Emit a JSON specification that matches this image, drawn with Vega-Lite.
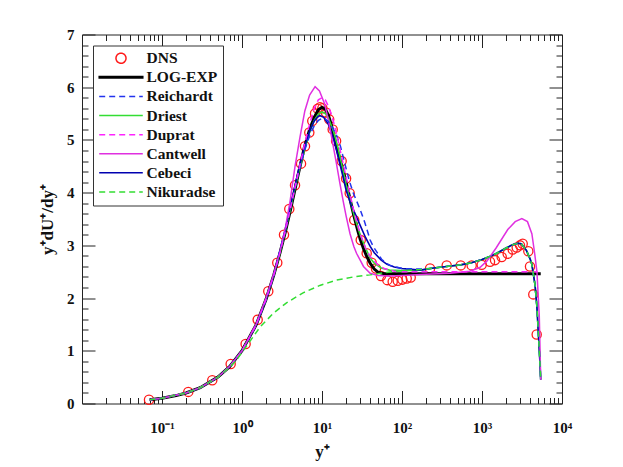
{
  "$schema": "https://vega.github.io/schema/vega-lite/v6.json",
  "width": 480,
  "height": 369,
  "autosize": {"type": "none"},
  "padding": {"left": 82, "top": 34.5, "right": 61, "bottom": 63.5},
  "background": "white",
  "config": {
    "view": {"stroke": null},
    "axis": {"grid": false, "tickColor": "#222", "domainColor": "#222", "tickWidth": 1, "domainWidth": 1},
    "legend": {
      "orient": "top-left", "offset": 11, "padding": 5, "rowPadding": 2.1, "clipHeight": 15.5,
      "strokeColor": "#333", "fillColor": "#ffffff",
      "labelFont": "Liberation Serif", "labelFontSize": 15.5, "labelFontWeight": "bold", "labelColor": "#111",
      "labelOffset": 2.5, "symbolSize": 1900, "symbolStrokeWidth": 1.5, "symbolFillColor": "transparent"
    }
  },
  "datasets": {
    "d": [
      {"s":"DNS","x":0.0688,"y":0.07},{"s":"DNS","x":0.213,"y":0.22},{"s":"DNS","x":0.425,"y":0.44},{"s":"DNS","x":0.722,"y":0.75},
      {"s":"DNS","x":1.11,"y":1.13},{"s":"DNS","x":1.57,"y":1.59},{"s":"DNS","x":2.13,"y":2.13},{"s":"DNS","x":2.76,"y":2.67},
      {"s":"DNS","x":3.35,"y":3.2},{"s":"DNS","x":3.9,"y":3.69},{"s":"DNS","x":4.6,"y":4.14},{"s":"DNS","x":5.47,"y":4.55},
      {"s":"DNS","x":6.13,"y":4.88},{"s":"DNS","x":6.94,"y":5.14},{"s":"DNS","x":7.56,"y":5.36},{"s":"DNS","x":8.18,"y":5.5},
      {"s":"DNS","x":8.84,"y":5.59},{"s":"DNS","x":9.44,"y":5.62},{"s":"DNS","x":10.1,"y":5.6},{"s":"DNS","x":11.2,"y":5.52},
      {"s":"DNS","x":12.3,"y":5.39},{"s":"DNS","x":13.6,"y":5.2},{"s":"DNS","x":15.0,"y":4.98},{"s":"DNS","x":17.6,"y":4.6},
      {"s":"DNS","x":20.0,"y":4.27},{"s":"DNS","x":22.2,"y":3.99},{"s":"DNS","x":25.3,"y":3.48},{"s":"DNS","x":30.5,"y":3.1},
      {"s":"DNS","x":36.2,"y":2.85},{"s":"DNS","x":41.8,"y":2.67},{"s":"DNS","x":47.3,"y":2.56},{"s":"DNS","x":54.6,"y":2.42},
      {"s":"DNS","x":65.5,"y":2.34},{"s":"DNS","x":76.5,"y":2.31},{"s":"DNS","x":88.4,"y":2.33},{"s":"DNS","x":101,"y":2.35},
      {"s":"DNS","x":114.5,"y":2.37},{"s":"DNS","x":128.5,"y":2.39},{"s":"DNS","x":224,"y":2.56},{"s":"DNS","x":362,"y":2.62},
      {"s":"DNS","x":542,"y":2.62},{"s":"DNS","x":743,"y":2.62},{"s":"DNS","x":991,"y":2.63},{"s":"DNS","x":1259,"y":2.69},
      {"s":"DNS","x":1454,"y":2.72},{"s":"DNS","x":1763,"y":2.78},{"s":"DNS","x":2096,"y":2.84},{"s":"DNS","x":2420,"y":2.92},
      {"s":"DNS","x":2716,"y":2.96},{"s":"DNS","x":2985,"y":3.0},{"s":"DNS","x":3226,"y":3.03},{"s":"DNS","x":3793,"y":2.89},
      {"s":"DNS","x":3981,"y":2.6},{"s":"DNS","x":4377,"y":2.07},{"s":"DNS","x":4827,"y":1.31},

      {"s":"LOG-EXP","x":0.07,"y":0.07},{"s":"LOG-EXP","x":0.1,"y":0.1},{"s":"LOG-EXP","x":0.15,"y":0.15},{"s":"LOG-EXP","x":0.2,"y":0.2},
      {"s":"LOG-EXP","x":0.3,"y":0.3},{"s":"LOG-EXP","x":0.5,"y":0.5},{"s":"LOG-EXP","x":0.7,"y":0.7},{"s":"LOG-EXP","x":1,"y":1.0},
      {"s":"LOG-EXP","x":1.5,"y":1.49},{"s":"LOG-EXP","x":2,"y":1.98},{"s":"LOG-EXP","x":2.5,"y":2.44},{"s":"LOG-EXP","x":3,"y":2.87},
      {"s":"LOG-EXP","x":3.5,"y":3.27},{"s":"LOG-EXP","x":4,"y":3.65},{"s":"LOG-EXP","x":4.5,"y":4.0},{"s":"LOG-EXP","x":5,"y":4.32},
      {"s":"LOG-EXP","x":6,"y":4.85},{"s":"LOG-EXP","x":7,"y":5.2},{"s":"LOG-EXP","x":8,"y":5.43},{"s":"LOG-EXP","x":9,"y":5.57},
      {"s":"LOG-EXP","x":10,"y":5.62},{"s":"LOG-EXP","x":11,"y":5.58},{"s":"LOG-EXP","x":12,"y":5.47},{"s":"LOG-EXP","x":13,"y":5.3},
      {"s":"LOG-EXP","x":14,"y":5.1},{"s":"LOG-EXP","x":15,"y":4.9},{"s":"LOG-EXP","x":17,"y":4.6},{"s":"LOG-EXP","x":19,"y":4.33},
      {"s":"LOG-EXP","x":21,"y":4.06},{"s":"LOG-EXP","x":23,"y":3.8},{"s":"LOG-EXP","x":25,"y":3.57},{"s":"LOG-EXP","x":28,"y":3.28},
      {"s":"LOG-EXP","x":30,"y":3.12},{"s":"LOG-EXP","x":33,"y":2.94},{"s":"LOG-EXP","x":36,"y":2.8},{"s":"LOG-EXP","x":40,"y":2.66},
      {"s":"LOG-EXP","x":45,"y":2.55},{"s":"LOG-EXP","x":50,"y":2.49},{"s":"LOG-EXP","x":60,"y":2.46},{"s":"LOG-EXP","x":100,"y":2.46},
      {"s":"LOG-EXP","x":1000,"y":2.46},{"s":"LOG-EXP","x":5420,"y":2.46},

      {"s":"Reichardt","x":0.07,"y":0.07},{"s":"Reichardt","x":0.1,"y":0.1},{"s":"Reichardt","x":0.2,"y":0.2},{"s":"Reichardt","x":0.3,"y":0.3},
      {"s":"Reichardt","x":0.5,"y":0.5},{"s":"Reichardt","x":0.7,"y":0.7},{"s":"Reichardt","x":1,"y":0.99},{"s":"Reichardt","x":1.5,"y":1.48},
      {"s":"Reichardt","x":2,"y":1.97},{"s":"Reichardt","x":2.5,"y":2.43},{"s":"Reichardt","x":3,"y":2.92},{"s":"Reichardt","x":3.5,"y":3.3},
      {"s":"Reichardt","x":4,"y":3.7},{"s":"Reichardt","x":5,"y":4.33},{"s":"Reichardt","x":6,"y":4.78},{"s":"Reichardt","x":7,"y":5.08},
      {"s":"Reichardt","x":8,"y":5.27},{"s":"Reichardt","x":9,"y":5.37},{"s":"Reichardt","x":10,"y":5.41},{"s":"Reichardt","x":11,"y":5.4},
      {"s":"Reichardt","x":12,"y":5.35},{"s":"Reichardt","x":13,"y":5.28},{"s":"Reichardt","x":15,"y":5.11},{"s":"Reichardt","x":17,"y":4.88},
      {"s":"Reichardt","x":19.3,"y":4.55},{"s":"Reichardt","x":22,"y":4.22},{"s":"Reichardt","x":24.5,"y":4.0},{"s":"Reichardt","x":30,"y":3.68},
      {"s":"Reichardt","x":34,"y":3.45},{"s":"Reichardt","x":40,"y":3.1},{"s":"Reichardt","x":44,"y":2.97},{"s":"Reichardt","x":56,"y":2.73},
      {"s":"Reichardt","x":70,"y":2.62},{"s":"Reichardt","x":100,"y":2.56},{"s":"Reichardt","x":170,"y":2.55},
      {"s":"Reichardt","x":250,"y":2.57},{"s":"Reichardt","x":360,"y":2.6},{"s":"Reichardt","x":540,"y":2.63},{"s":"Reichardt","x":740,"y":2.67},
      {"s":"Reichardt","x":1000,"y":2.73},{"s":"Reichardt","x":1250,"y":2.79},{"s":"Reichardt","x":1530,"y":2.85},{"s":"Reichardt","x":2000,"y":2.95},
      {"s":"Reichardt","x":2400,"y":3.01},{"s":"Reichardt","x":2800,"y":3.04},{"s":"Reichardt","x":3100,"y":3.03},{"s":"Reichardt","x":3600,"y":2.9},
      {"s":"Reichardt","x":4000,"y":2.74},{"s":"Reichardt","x":4200,"y":2.64},{"s":"Reichardt","x":4600,"y":2.25},{"s":"Reichardt","x":4850,"y":1.85},
      {"s":"Reichardt","x":5060,"y":1.35},{"s":"Reichardt","x":5250,"y":0.9},{"s":"Reichardt","x":5420,"y":0.45},

      {"s":"Driest","x":0.07,"y":0.07},{"s":"Driest","x":0.1,"y":0.1},{"s":"Driest","x":0.2,"y":0.2},{"s":"Driest","x":0.3,"y":0.3},
      {"s":"Driest","x":0.5,"y":0.5},{"s":"Driest","x":0.7,"y":0.7},{"s":"Driest","x":1,"y":1.0},{"s":"Driest","x":1.5,"y":1.49},
      {"s":"Driest","x":2,"y":1.98},{"s":"Driest","x":2.5,"y":2.44},{"s":"Driest","x":3,"y":2.87},{"s":"Driest","x":3.5,"y":3.28},
      {"s":"Driest","x":4,"y":3.67},{"s":"Driest","x":5,"y":4.33},{"s":"Driest","x":6,"y":4.8},{"s":"Driest","x":7,"y":5.15},
      {"s":"Driest","x":8,"y":5.37},{"s":"Driest","x":9,"y":5.49},{"s":"Driest","x":10,"y":5.53},{"s":"Driest","x":11,"y":5.5},
      {"s":"Driest","x":12,"y":5.42},{"s":"Driest","x":14,"y":5.15},{"s":"Driest","x":16,"y":4.82},{"s":"Driest","x":18,"y":4.47},
      {"s":"Driest","x":20,"y":4.15},{"s":"Driest","x":23,"y":3.8},{"s":"Driest","x":26,"y":3.5},{"s":"Driest","x":30,"y":3.2},
      {"s":"Driest","x":35,"y":2.95},{"s":"Driest","x":40,"y":2.76},{"s":"Driest","x":45,"y":2.66},{"s":"Driest","x":55,"y":2.57},
      {"s":"Driest","x":70,"y":2.53},{"s":"Driest","x":100,"y":2.52},{"s":"Driest","x":170,"y":2.53},
      {"s":"Driest","x":250,"y":2.57},{"s":"Driest","x":360,"y":2.6},{"s":"Driest","x":540,"y":2.63},{"s":"Driest","x":740,"y":2.67},
      {"s":"Driest","x":1000,"y":2.73},{"s":"Driest","x":1250,"y":2.79},{"s":"Driest","x":1530,"y":2.85},{"s":"Driest","x":2000,"y":2.95},
      {"s":"Driest","x":2400,"y":3.01},{"s":"Driest","x":2800,"y":3.04},{"s":"Driest","x":3100,"y":3.03},{"s":"Driest","x":3600,"y":2.9},
      {"s":"Driest","x":4000,"y":2.74},{"s":"Driest","x":4200,"y":2.64},{"s":"Driest","x":4600,"y":2.25},{"s":"Driest","x":4850,"y":1.85},
      {"s":"Driest","x":5060,"y":1.35},{"s":"Driest","x":5250,"y":0.9},{"s":"Driest","x":5420,"y":0.45},

      {"s":"Duprat","x":0.07,"y":0.07},{"s":"Duprat","x":0.1,"y":0.1},{"s":"Duprat","x":0.2,"y":0.2},{"s":"Duprat","x":0.3,"y":0.3},
      {"s":"Duprat","x":0.5,"y":0.5},{"s":"Duprat","x":0.7,"y":0.7},{"s":"Duprat","x":1,"y":1.0},{"s":"Duprat","x":1.5,"y":1.49},
      {"s":"Duprat","x":2,"y":1.98},{"s":"Duprat","x":2.5,"y":2.44},{"s":"Duprat","x":3,"y":2.88},{"s":"Duprat","x":3.5,"y":3.29},
      {"s":"Duprat","x":4,"y":3.68},{"s":"Duprat","x":5,"y":4.35},{"s":"Duprat","x":6,"y":4.9},{"s":"Duprat","x":7,"y":5.3},
      {"s":"Duprat","x":8,"y":5.6},{"s":"Duprat","x":9,"y":5.76},{"s":"Duprat","x":10,"y":5.8},{"s":"Duprat","x":11,"y":5.76},
      {"s":"Duprat","x":12,"y":5.64},{"s":"Duprat","x":13,"y":5.5},{"s":"Duprat","x":14,"y":5.33},{"s":"Duprat","x":15,"y":5.15},
      {"s":"Duprat","x":17,"y":4.78},{"s":"Duprat","x":20,"y":4.3},{"s":"Duprat","x":25,"y":3.65},{"s":"Duprat","x":30,"y":3.22},
      {"s":"Duprat","x":35,"y":2.95},{"s":"Duprat","x":40,"y":2.79},{"s":"Duprat","x":50,"y":2.63},{"s":"Duprat","x":60,"y":2.56},
      {"s":"Duprat","x":70,"y":2.53},{"s":"Duprat","x":80,"y":2.51},{"s":"Duprat","x":100,"y":2.5},{"s":"Duprat","x":1000,"y":2.5},
      {"s":"Duprat","x":5420,"y":2.5},

      {"s":"Cantwell","x":0.07,"y":0.07},{"s":"Cantwell","x":0.1,"y":0.1},{"s":"Cantwell","x":0.2,"y":0.2},{"s":"Cantwell","x":0.3,"y":0.3},
      {"s":"Cantwell","x":0.5,"y":0.5},{"s":"Cantwell","x":0.7,"y":0.7},{"s":"Cantwell","x":1,"y":1.0},{"s":"Cantwell","x":1.5,"y":1.5},
      {"s":"Cantwell","x":2,"y":2.0},{"s":"Cantwell","x":2.5,"y":2.46},{"s":"Cantwell","x":3,"y":2.9},{"s":"Cantwell","x":3.5,"y":3.35},
      {"s":"Cantwell","x":4,"y":3.85},{"s":"Cantwell","x":4.6,"y":4.5},{"s":"Cantwell","x":5.3,"y":5.05},{"s":"Cantwell","x":6.1,"y":5.55},
      {"s":"Cantwell","x":7,"y":5.85},{"s":"Cantwell","x":8.2,"y":6.01},{"s":"Cantwell","x":9.3,"y":5.93},{"s":"Cantwell","x":10.8,"y":5.68},
      {"s":"Cantwell","x":12,"y":5.38},{"s":"Cantwell","x":13.2,"y":5.05},{"s":"Cantwell","x":15.2,"y":4.54},{"s":"Cantwell","x":16.8,"y":4.16},
      {"s":"Cantwell","x":18.5,"y":3.82},{"s":"Cantwell","x":20,"y":3.56},{"s":"Cantwell","x":22.4,"y":3.22},{"s":"Cantwell","x":25,"y":2.98},
      {"s":"Cantwell","x":27,"y":2.85},{"s":"Cantwell","x":30,"y":2.72},{"s":"Cantwell","x":33,"y":2.6},{"s":"Cantwell","x":40,"y":2.47},
      {"s":"Cantwell","x":50,"y":2.43},{"s":"Cantwell","x":70,"y":2.42},{"s":"Cantwell","x":100,"y":2.43},{"s":"Cantwell","x":200,"y":2.45},
      {"s":"Cantwell","x":400,"y":2.47},{"s":"Cantwell","x":700,"y":2.51},{"s":"Cantwell","x":940,"y":2.58},{"s":"Cantwell","x":1150,"y":2.7},
      {"s":"Cantwell","x":1500,"y":2.95},{"s":"Cantwell","x":2100,"y":3.3},{"s":"Cantwell","x":2600,"y":3.45},{"s":"Cantwell","x":3150,"y":3.51},
      {"s":"Cantwell","x":3700,"y":3.45},{"s":"Cantwell","x":4200,"y":3.22},{"s":"Cantwell","x":4550,"y":2.85},{"s":"Cantwell","x":4860,"y":2.5},
      {"s":"Cantwell","x":5200,"y":1.66},{"s":"Cantwell","x":5420,"y":0.45},

      {"s":"Cebeci","x":0.07,"y":0.07},{"s":"Cebeci","x":0.1,"y":0.1},{"s":"Cebeci","x":0.2,"y":0.2},{"s":"Cebeci","x":0.3,"y":0.3},
      {"s":"Cebeci","x":0.5,"y":0.5},{"s":"Cebeci","x":0.7,"y":0.7},{"s":"Cebeci","x":1,"y":1.0},{"s":"Cebeci","x":1.5,"y":1.49},
      {"s":"Cebeci","x":2,"y":1.98},{"s":"Cebeci","x":2.5,"y":2.45},{"s":"Cebeci","x":3,"y":2.9},{"s":"Cebeci","x":3.5,"y":3.3},
      {"s":"Cebeci","x":4,"y":3.72},{"s":"Cebeci","x":5,"y":4.38},{"s":"Cebeci","x":6,"y":4.85},{"s":"Cebeci","x":7,"y":5.17},
      {"s":"Cebeci","x":8,"y":5.36},{"s":"Cebeci","x":9,"y":5.45},{"s":"Cebeci","x":9.5,"y":5.46},{"s":"Cebeci","x":10.5,"y":5.43},
      {"s":"Cebeci","x":12,"y":5.3},{"s":"Cebeci","x":14,"y":5.02},{"s":"Cebeci","x":16,"y":4.66},{"s":"Cebeci","x":18,"y":4.35},
      {"s":"Cebeci","x":20,"y":4.05},{"s":"Cebeci","x":23,"y":3.78},{"s":"Cebeci","x":26,"y":3.6},{"s":"Cebeci","x":30,"y":3.38},
      {"s":"Cebeci","x":35,"y":3.15},{"s":"Cebeci","x":40,"y":2.98},{"s":"Cebeci","x":45,"y":2.86},{"s":"Cebeci","x":55,"y":2.72},
      {"s":"Cebeci","x":65,"y":2.64},{"s":"Cebeci","x":80,"y":2.59},{"s":"Cebeci","x":100,"y":2.56},{"s":"Cebeci","x":170,"y":2.53},
      {"s":"Cebeci","x":250,"y":2.57},{"s":"Cebeci","x":360,"y":2.6},{"s":"Cebeci","x":540,"y":2.63},{"s":"Cebeci","x":740,"y":2.67},
      {"s":"Cebeci","x":1000,"y":2.73},{"s":"Cebeci","x":1250,"y":2.79},{"s":"Cebeci","x":1530,"y":2.85},{"s":"Cebeci","x":2000,"y":2.95},
      {"s":"Cebeci","x":2400,"y":3.01},{"s":"Cebeci","x":2800,"y":3.04},{"s":"Cebeci","x":3100,"y":3.03},{"s":"Cebeci","x":3600,"y":2.9},
      {"s":"Cebeci","x":4000,"y":2.74},{"s":"Cebeci","x":4200,"y":2.64},{"s":"Cebeci","x":4600,"y":2.25},{"s":"Cebeci","x":4850,"y":1.85},
      {"s":"Cebeci","x":5060,"y":1.35},{"s":"Cebeci","x":5250,"y":0.9},{"s":"Cebeci","x":5420,"y":0.45},

      {"s":"Nikuradse","x":0.07,"y":0.07},{"s":"Nikuradse","x":0.1,"y":0.1},{"s":"Nikuradse","x":0.2,"y":0.2},{"s":"Nikuradse","x":0.3,"y":0.3},
      {"s":"Nikuradse","x":0.5,"y":0.5},{"s":"Nikuradse","x":0.7,"y":0.69},{"s":"Nikuradse","x":0.85,"y":0.82},{"s":"Nikuradse","x":1.15,"y":1.1},
      {"s":"Nikuradse","x":1.68,"y":1.45},{"s":"Nikuradse","x":2.46,"y":1.71},{"s":"Nikuradse","x":3.6,"y":1.91},{"s":"Nikuradse","x":5.8,"y":2.1},
      {"s":"Nikuradse","x":9.4,"y":2.24},{"s":"Nikuradse","x":15.2,"y":2.34},{"s":"Nikuradse","x":24.5,"y":2.4},{"s":"Nikuradse","x":40,"y":2.44},
      {"s":"Nikuradse","x":60,"y":2.48},{"s":"Nikuradse","x":100,"y":2.52},{"s":"Nikuradse","x":170,"y":2.54},
      {"s":"Nikuradse","x":250,"y":2.57},{"s":"Nikuradse","x":360,"y":2.6},{"s":"Nikuradse","x":540,"y":2.63},{"s":"Nikuradse","x":740,"y":2.67},
      {"s":"Nikuradse","x":1000,"y":2.73},{"s":"Nikuradse","x":1250,"y":2.79},{"s":"Nikuradse","x":1530,"y":2.85},{"s":"Nikuradse","x":2000,"y":2.95},
      {"s":"Nikuradse","x":2400,"y":3.01},{"s":"Nikuradse","x":2800,"y":3.04},{"s":"Nikuradse","x":3100,"y":3.03},{"s":"Nikuradse","x":3600,"y":2.9},
      {"s":"Nikuradse","x":4000,"y":2.74},{"s":"Nikuradse","x":4200,"y":2.64},{"s":"Nikuradse","x":4600,"y":2.25},{"s":"Nikuradse","x":4850,"y":1.85},
      {"s":"Nikuradse","x":5060,"y":1.35},{"s":"Nikuradse","x":5250,"y":0.9},{"s":"Nikuradse","x":5420,"y":0.45}
    ]
  },
  "data": {"name": "d"},
  "resolve": {"axis": {"x": "independent", "y": "independent"}},
  "layer": [
    {
      "transform": [{"filter": "datum.s === 'DNS'"}],
      "mark": {"type": "point", "shape": "circle", "filled": false, "size": 85, "strokeWidth": 1.3, "opacity": 1},
      "encoding": {
        "x": {"field": "x", "type": "quantitative", "scale": {"type": "log", "domain": [0.01, 10000], "nice": false},
          "axis": {"orient": "bottom", "values": [0.1, 1, 10, 100, 1000, 10000], "ticks": false, "domain": false,
            "labelExpr": "datum.value < 0.5 ? '10⁻¹' : datum.value < 5 ? '10⁰' : datum.value < 50 ? '10¹' : datum.value < 500 ? '10²' : datum.value < 5000 ? '10³' : '10⁴'",
            "labelFont": "Liberation Serif", "labelFontWeight": "bold", "labelFontSize": 15, "labelColor": "#111",
            "labelPadding": 17, "labelFlush": false, "labelOverlap": false,
            "title": "y⁺", "titleFont": "Liberation Serif", "titleFontWeight": "bold", "titleFontSize": 17, "titleColor": "#111", "titlePadding": 8}},
        "y": {"field": "y", "type": "quantitative", "scale": {"domain": [0, 7], "nice": false, "zero": false},
          "axis": {"orient": "left", "values": [0, 1, 2, 3, 4, 5, 6, 7], "ticks": false, "domain": false,
            "labelFont": "Liberation Serif", "labelFontWeight": "bold", "labelFontSize": 15, "labelColor": "#111",
            "labelPadding": 8, "labelFlush": false, "labelOverlap": false,
            "title": "y⁺dU⁺/dy⁺", "titleFont": "Liberation Serif", "titleFontWeight": "bold", "titleFontSize": 17, "titleColor": "#111", "titlePadding": 10}},
        "color": {"field": "s", "type": "nominal",
          "scale": {"domain": ["DNS", "LOG-EXP", "Reichardt", "Driest", "Duprat", "Cantwell", "Cebeci", "Nikuradse"],
                    "range": ["#ff1a1a", "#000000", "#2233ee", "#33dd33", "#ff22ff", "#e030e0", "#0000b0", "#33dd33"]},
          "legend": {"title": null,
            "symbolType": {"expr": "datum.value === 'DNS' ? 'M0.23,0A0.23,0.23 0 1,1 -0.23,0A0.23,0.23 0 1,1 0.23,0Z' : datum.value === 'LOG-EXP' ? 'M-1,-0.035H1V0.035H-1Z' : 'stroke'"},
            "symbolDash": {"expr": "indexof(['Reichardt','Duprat','Nikuradse'], datum.value) >= 0 ? [6,4] : [1,0]"}}}
      }
    },
    {
      "transform": [{"filter": "datum.s === 'LOG-EXP'"}],
      "mark": {"type": "line", "strokeWidth": 3},
      "encoding": {
        "x": {"field": "x", "type": "quantitative", "axis": {"orient": "bottom", "values": [0.01, 0.1, 1, 10, 100, 1000, 10000], "tickSize": -13, "labels": false, "domain": true, "title": null}},
        "y": {"field": "y", "type": "quantitative", "axis": {"orient": "left", "values": [0, 1, 2, 3, 4, 5, 6, 7], "tickSize": -13, "labels": false, "domain": true, "title": null}},
        "color": {"field": "s", "type": "nominal", "legend": {"title": null,
            "symbolType": {"expr": "datum.value === 'DNS' ? 'M0.23,0A0.23,0.23 0 1,1 -0.23,0A0.23,0.23 0 1,1 0.23,0Z' : datum.value === 'LOG-EXP' ? 'M-1,-0.035H1V0.035H-1Z' : 'stroke'"},
            "symbolDash": {"expr": "indexof(['Reichardt','Duprat','Nikuradse'], datum.value) >= 0 ? [6,4] : [1,0]"}}}
      }
    },
    {
      "transform": [{"filter": "datum.s === 'Driest' || datum.s === 'Cebeci'"}],
      "mark": {"type": "line", "strokeWidth": 1.6},
      "encoding": {
        "x": {"field": "x", "type": "quantitative", "axis": {"orient": "bottom", "values": [0.02,0.03,0.04,0.05,0.06,0.07,0.08,0.09,0.2,0.3,0.4,0.5,0.6,0.7,0.8,0.9,2,3,4,5,6,7,8,9,20,30,40,50,60,70,80,90,200,300,400,500,600,700,800,900,2000,3000,4000,5000,6000,7000,8000,9000], "tickSize": -6, "labels": false, "domain": false, "title": null}},
        "y": {"field": "y", "type": "quantitative", "axis": {"orient": "left", "values": [0.2,0.4,0.6,0.8,1.2,1.4,1.6,1.8,2.2,2.4,2.6,2.8,3.2,3.4,3.6,3.8,4.2,4.4,4.6,4.8,5.2,5.4,5.6,5.8,6.2,6.4,6.6,6.8], "tickSize": -6, "labels": false, "domain": false, "title": null}},
        "color": {"field": "s", "type": "nominal", "legend": {"title": null,
            "symbolType": {"expr": "datum.value === 'DNS' ? 'M0.23,0A0.23,0.23 0 1,1 -0.23,0A0.23,0.23 0 1,1 0.23,0Z' : datum.value === 'LOG-EXP' ? 'M-1,-0.035H1V0.035H-1Z' : 'stroke'"},
            "symbolDash": {"expr": "indexof(['Reichardt','Duprat','Nikuradse'], datum.value) >= 0 ? [6,4] : [1,0]"}}}
      }
    },
    {
      "transform": [{"filter": "datum.s === 'Cantwell'"}],
      "mark": {"type": "line", "strokeWidth": 1.5},
      "encoding": {
        "x": {"field": "x", "type": "quantitative", "axis": {"orient": "top", "values": [0.01, 0.1, 1, 10, 100, 1000, 10000], "tickSize": -13, "labels": false, "domain": true, "title": null}},
        "y": {"field": "y", "type": "quantitative", "axis": {"orient": "right", "values": [0, 1, 2, 3, 4, 5, 6, 7], "tickSize": -13, "labels": false, "domain": true, "title": null}},
        "color": {"field": "s", "type": "nominal", "legend": {"title": null,
            "symbolType": {"expr": "datum.value === 'DNS' ? 'M0.23,0A0.23,0.23 0 1,1 -0.23,0A0.23,0.23 0 1,1 0.23,0Z' : datum.value === 'LOG-EXP' ? 'M-1,-0.035H1V0.035H-1Z' : 'stroke'"},
            "symbolDash": {"expr": "indexof(['Reichardt','Duprat','Nikuradse'], datum.value) >= 0 ? [6,4] : [1,0]"}}}
      }
    },
    {
      "transform": [{"filter": "datum.s === 'Reichardt' || datum.s === 'Duprat' || datum.s === 'Nikuradse'"}],
      "mark": {"type": "line", "strokeWidth": 1.5, "strokeDash": [6, 4]},
      "encoding": {
        "x": {"field": "x", "type": "quantitative", "axis": {"orient": "top", "values": [0.02,0.03,0.04,0.05,0.06,0.07,0.08,0.09,0.2,0.3,0.4,0.5,0.6,0.7,0.8,0.9,2,3,4,5,6,7,8,9,20,30,40,50,60,70,80,90,200,300,400,500,600,700,800,900,2000,3000,4000,5000,6000,7000,8000,9000], "tickSize": -6, "labels": false, "domain": false, "title": null}},
        "y": {"field": "y", "type": "quantitative", "axis": {"orient": "right", "values": [0.2,0.4,0.6,0.8,1.2,1.4,1.6,1.8,2.2,2.4,2.6,2.8,3.2,3.4,3.6,3.8,4.2,4.4,4.6,4.8,5.2,5.4,5.6,5.8,6.2,6.4,6.6,6.8], "tickSize": -6, "labels": false, "domain": false, "title": null}},
        "color": {"field": "s", "type": "nominal", "legend": {"title": null,
            "symbolType": {"expr": "datum.value === 'DNS' ? 'M0.23,0A0.23,0.23 0 1,1 -0.23,0A0.23,0.23 0 1,1 0.23,0Z' : datum.value === 'LOG-EXP' ? 'M-1,-0.035H1V0.035H-1Z' : 'stroke'"},
            "symbolDash": {"expr": "indexof(['Reichardt','Duprat','Nikuradse'], datum.value) >= 0 ? [6,4] : [1,0]"}}}
      }
    }
  ]
}
